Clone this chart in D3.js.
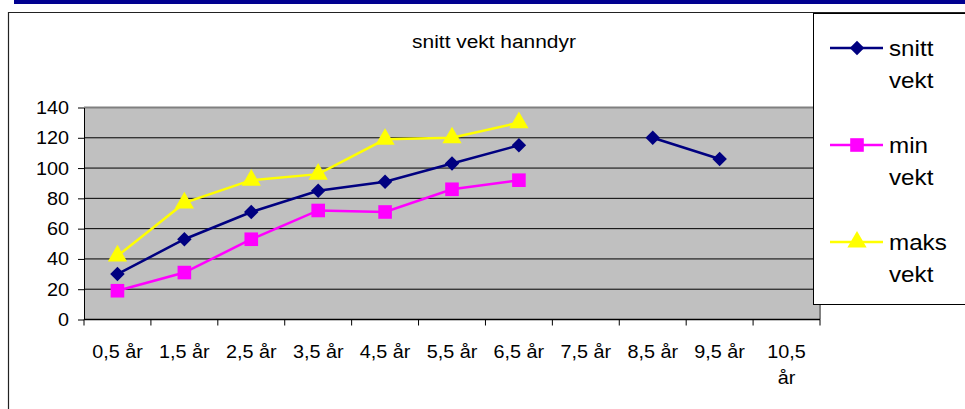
<!DOCTYPE html>
<html>
<head>
<meta charset="utf-8">
<script src="https://cdn.jsdelivr.net/npm/d3@7"></script>
<style>
  body { margin: 0; background: #fff; }
  svg { display: block; font-family: Arial, "Liberation Sans", sans-serif; }
</style>
</head>
<body>
<div id="chart"></div>
<script>
const width = 965;
const height = 409;
const margin = {top: 107.5, left: 84, bottom: 89.5, right: 145};

// data
const categories = ['0,5 år', '1,5 år', '2,5 år', '3,5 år', '4,5 år', '5,5 år', '6,5 år', '7,5 år', '8,5 år', '9,5 år', '10,5 år'];
const snittVekt = [30, 53, 71, 85, 91, 103, 115, null, 120, 106, null];
const minVekt = [19, 31, 53, 72, 71, 86, 92, null, null, null, null];
const maksVekt = [42, 77, 92, 96, 119, 120, 130, null, null, null, null];
const yTicks = [0, 20, 40, 60, 80, 100, 120, 140];

// diamond = square turned 45 degrees
const series = [
  {name: ['snitt', 'vekt'], values: snittVekt, color: '#000080', symbol: d3.symbolSquare, size: 105, rot: 45},
  {name: ['min', 'vekt'], values: minVekt, color: '#ff00ff', symbol: d3.symbolSquare, size: 185, rot: 0},
  {name: ['maks', 'vekt'], values: maksVekt, color: '#ffff00', symbol: d3.symbolTriangle, size: 160, rot: 0}
];

const sx = 1.1; // text looks a bit wide in the original

const x = d3.scaleBand()
  .domain(categories)
  .range([margin.left, width - margin.right])
  .padding(0);

const y = d3.scaleLinear()
  .domain([0, 140])
  .range([height - margin.bottom, margin.top]);

const svg = d3.select('#chart').append('svg')
  .attr('width', width)
  .attr('height', height);

// frame
svg.append('rect').attr('x', 14).attr('y', 0).attr('width', width - 14).attr('height', 4).attr('fill', '#000090');
svg.append('path')
  .attr('d', `M8.5,${height} V12.5 H${width}`)
  .attr('fill', 'none').attr('stroke', '#222').attr('stroke-width', 1.2);

// title
svg.append('text')
  .attr('transform', `translate(494,48) scale(${sx},1)`)
  .attr('text-anchor', 'middle')
  .style('font-size', '19px')
  .text('snitt vekt hanndyr');

// plot area
const x0 = margin.left, x1 = width - margin.right;
svg.append('rect')
  .attr('x', x0).attr('y', y(140))
  .attr('width', x1 - x0).attr('height', y(0) - y(140))
  .attr('fill', '#c0c0c0');

svg.append('g')
  .selectAll('line').data(yTicks.filter(d => d > 0 && d < 140)).enter().append('line')
  .attr('x1', x0).attr('x2', x1)
  .attr('y1', d => y(d)).attr('y2', d => y(d))
  .attr('stroke', '#000').attr('stroke-width', 1);

svg.append('path')
  .attr('d', `M${x0},${y(140)} H${x1} V${y(0)}`)
  .attr('fill', 'none').attr('stroke', '#808080').attr('stroke-width', 2);

// y axis
const yAxis = g => g
  .attr('transform', `translate(${x0},0)`)
  .call(d3.axisLeft(y).tickValues(yTicks).tickSize(6).tickPadding(5).tickSizeOuter(0))
  .call(g => g.selectAll('line, .domain').attr('stroke', '#000'))
  .call(g => g.selectAll('text')
    .attr('x', null).attr('dy', null)
    .attr('transform', d => `translate(-15,6) scale(${sx},1)`)
    .attr('fill', '#000')
    .style('font-size', '18px')
    .style('font-family', 'Arial, "Liberation Sans", sans-serif'));

svg.append('g').call(yAxis);

// x axis (ticks on the category boundaries)
svg.append('line')
  .attr('x1', x0).attr('x2', x1).attr('y1', y(0)).attr('y2', y(0))
  .attr('stroke', '#000').attr('stroke-width', 1.5);

const bounds = categories.map(c => x(c)).concat([x1]);
svg.append('g')
  .selectAll('line').data(bounds).enter().append('line')
  .attr('x1', d => d).attr('x2', d => d)
  .attr('y1', y(0)).attr('y2', y(0) + 6)
  .attr('stroke', '#000');

const xl = svg.append('g')
  .selectAll('text').data(categories).enter().append('text')
  .attr('transform', d => `translate(${x(d) + x.bandwidth() / 2},${y(0) + 38}) scale(${sx},1)`)
  .attr('text-anchor', 'middle')
  .style('font-size', '18px');

xl.each(function(d) {
  const t = d3.select(this);
  if (d === '10,5 år') {
    t.append('tspan').attr('x', 0).text('10,5');
    t.append('tspan').attr('x', 0).attr('dy', 27).text('år');
  } else {
    t.text(d);
  }
});

// lines and markers
const line = d3.line()
  .defined(d => d.v !== null)
  .x(d => x(d.c) + x.bandwidth() / 2)
  .y(d => y(d.v));

series.slice().reverse().forEach(s => {
  const pts = categories.map((c, i) => ({c, v: s.values[i]}));
  svg.append('path')
    .datum(pts)
    .attr('d', line)
    .attr('fill', 'none')
    .attr('stroke', s.color)
    .attr('stroke-width', 2.5);
});

series.slice().reverse().forEach(s => {
  const pts = categories.map((c, i) => ({c, v: s.values[i]})).filter(d => d.v !== null);
  svg.append('g')
    .selectAll('path').data(pts).enter().append('path')
    .attr('d', d3.symbol().type(s.symbol).size(s.size))
    .attr('transform', d => `translate(${x(d.c) + x.bandwidth() / 2},${y(d.v)}) rotate(${s.rot})`)
    .attr('fill', s.color);
});

// legend
svg.append('rect')
  .attr('x', 813.5).attr('y', 13.5)
  .attr('width', 170).attr('height', 291)
  .attr('fill', '#fff').attr('stroke', '#000').attr('stroke-width', 1);

const lg = svg.append('g')
  .selectAll('g').data(series).enter().append('g')
  .attr('transform', (d, i) => `translate(830,${48 + i * 97})`);

lg.append('line')
  .attr('x1', 0).attr('x2', 53)
  .attr('stroke', d => d.color).attr('stroke-width', 2.5);

lg.append('path')
  .attr('d', d => d3.symbol().type(d.symbol).size(d.size)())
  .attr('transform', d => `translate(27,0) rotate(${d.rot})`)
  .attr('fill', d => d.color);

lg.append('text')
  .attr('transform', `translate(59,8) scale(${sx},1)`)
  .style('font-size', '22px')
  .selectAll('tspan').data(d => d.name).enter().append('tspan')
  .attr('x', 0)
  .attr('dy', (d, i) => i === 0 ? 0 : 32)
  .text(d => d);
</script>
</body>
</html>
